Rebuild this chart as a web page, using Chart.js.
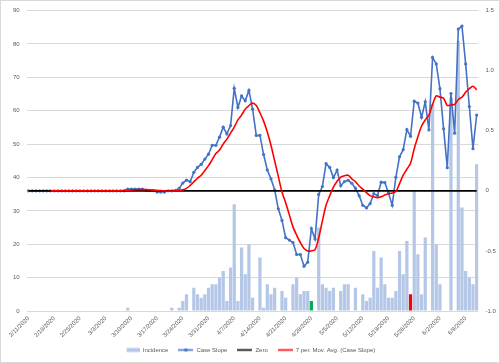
<!DOCTYPE html>
<html>
<head>
<meta charset="utf-8">
<script src="https://cdn.jsdelivr.net/npm/chart.js@4.4.1/dist/chart.umd.min.js"></script>
<style>
    html, body { margin: 0; padding: 0; background: #fff; }
    #wrap { position: relative; width: 500px; height: 363px; }
</style>
</head>
<body>
<div id="wrap"><canvas id="caseChart"></canvas></div>
<script>
// categories: one per day, 2/11/2020 .. 6/12/2020
const dates = [
    '2/11/2020', '2/12/2020', '2/13/2020', '2/14/2020', '2/15/2020', '2/16/2020', '2/17/2020', '2/18/2020', '2/19/2020', '2/20/2020',
    '2/21/2020', '2/22/2020', '2/23/2020', '2/24/2020', '2/25/2020', '2/26/2020', '2/27/2020', '2/28/2020', '2/29/2020',
    '3/1/2020', '3/2/2020', '3/3/2020', '3/4/2020', '3/5/2020', '3/6/2020', '3/7/2020', '3/8/2020', '3/9/2020', '3/10/2020',
    '3/11/2020', '3/12/2020', '3/13/2020', '3/14/2020', '3/15/2020', '3/16/2020', '3/17/2020', '3/18/2020', '3/19/2020', '3/20/2020',
    '3/21/2020', '3/22/2020', '3/23/2020', '3/24/2020', '3/25/2020', '3/26/2020', '3/27/2020', '3/28/2020', '3/29/2020', '3/30/2020', '3/31/2020',
    '4/1/2020', '4/2/2020', '4/3/2020', '4/4/2020', '4/5/2020', '4/6/2020', '4/7/2020', '4/8/2020', '4/9/2020', '4/10/2020',
    '4/11/2020', '4/12/2020', '4/13/2020', '4/14/2020', '4/15/2020', '4/16/2020', '4/17/2020', '4/18/2020', '4/19/2020', '4/20/2020',
    '4/21/2020', '4/22/2020', '4/23/2020', '4/24/2020', '4/25/2020', '4/26/2020', '4/27/2020', '4/28/2020', '4/29/2020', '4/30/2020',
    '5/1/2020', '5/2/2020', '5/3/2020', '5/4/2020', '5/5/2020', '5/6/2020', '5/7/2020', '5/8/2020', '5/9/2020', '5/10/2020',
    '5/11/2020', '5/12/2020', '5/13/2020', '5/14/2020', '5/15/2020', '5/16/2020', '5/17/2020', '5/18/2020', '5/19/2020', '5/20/2020',
    '5/21/2020', '5/22/2020', '5/23/2020', '5/24/2020', '5/25/2020', '5/26/2020', '5/27/2020', '5/28/2020', '5/29/2020', '5/30/2020', '5/31/2020',
    '6/1/2020', '6/2/2020', '6/3/2020', '6/4/2020', '6/5/2020', '6/6/2020', '6/7/2020', '6/8/2020', '6/9/2020', '6/10/2020',
    '6/11/2020', '6/12/2020'
];

// labels shown under the axis (weekly)
const tickLabels = [
    '2/11/2020', '2/18/2020', '2/25/2020', '3/3/2020', '3/10/2020', '3/17/2020', '3/24/2020', '3/31/2020', '4/7/2020',
    '4/14/2020', '4/21/2020', '4/28/2020', '5/5/2020', '5/12/2020', '5/19/2020', '5/26/2020', '6/2/2020', '6/9/2020'
];

// left axis
const incidence = [
    0, 0, 0, 0, 0, 0, 0, 0, 0, 0, 0, 0, 0, 0, 0, 0, 0, 0, 0, 0, 0, 0, 0, 0, 0, 0, 0,
    1, 0, 0, 0, 0, 0, 0, 0, 0, 0, 0, 0,
    1, 0, 1, 3, 5, 0, 7, 5, 4, 5, 7, 8, 8, 10, 12, 3, 13, 32, 3, 19, 11, 20, 4, 0, 16, 1,
    8, 5, 7, 0, 6, 4, 0, 8, 10, 5, 6, 6, 3, 0, 25, 8, 7, 6, 7, 0, 6, 8, 8, 0, 7, 0,
    5, 3, 4, 18, 7, 16, 8, 4, 4, 6, 18, 11, 21, 5, 36, 17, 5, 22, 0, 62, 20, 8, 0, 0,
    64, 0, 81, 31, 12, 10, 8, 44
];

// right axis
const caseSlope = [
    0, 0, 0, 0, 0, 0, 0, 0, 0, 0, 0, 0, 0, 0, 0, 0, 0, 0, 0, 0, 0, 0, 0, 0, 0, 0, 0,
    0.015, 0.015, 0.015, 0.015, 0.015, 0.004, 0.003, 0.002, -0.01, -0.01, -0.01, 0, 0, 0.005, 0.02,
    0.065, 0.09, 0.075, 0.154, 0.195, 0.22, 0.264, 0.305, 0.379, 0.379, 0.447, 0.53, 0.474, 0.543,
    0.853, 0.694, 0.79, 0.749, 0.836, 0.68, 0.461, 0.461, 0.302, 0.174, 0.1, 0.009, -0.15, -0.246,
    -0.39, -0.41, -0.43, -0.53, -0.53, -0.627, -0.594, -0.315, -0.4, -0.03, 0.036, 0.226, 0.195,
    0.11, 0.173, 0.042, 0.077, 0.088, 0.063, 0.022, -0.04, -0.12, -0.142, -0.106, -0.024, -0.038,
    0.072, 0.069, -0.019, -0.12, 0.113, 0.283, 0.343, 0.51, 0.455, 0.746, 0.73, 0.612, 0.741,
    0.507, 1.11, 1.056, 0.85, 0.516, 0.193, 0.81, 0.48, 1.346, 1.371, 1.056, 0.702, 0.351, 0.631
];

const zeroLine = [
    0, 0, 0, 0, 0, 0, 0, 0, 0, 0, 0, 0, 0, 0, 0, 0, 0, 0, 0, 0, 0, 0, 0, 0, 0, 0, 0, 0, 0, 0,
    0, 0, 0, 0, 0, 0, 0, 0, 0, 0, 0, 0, 0, 0, 0, 0, 0, 0, 0, 0, 0, 0, 0, 0, 0, 0, 0, 0, 0, 0,
    0, 0, 0, 0, 0, 0, 0, 0, 0, 0, 0, 0, 0, 0, 0, 0, 0, 0, 0, 0, 0, 0, 0, 0, 0, 0, 0, 0, 0, 0,
    0, 0, 0, 0, 0, 0, 0, 0, 0, 0, 0, 0, 0, 0, 0, 0, 0, 0, 0, 0, 0, 0, 0, 0, 0, 0, 0, 0, 0, 0,
    0, 0, 0
];

const movingAvg = [
    null, null, null, null, null, null,
    0, 0, 0, 0, 0, 0, 0, 0, 0, 0, 0, 0, 0, 0, 0, 0, 0, 0, 0, 0,
    0.003, 0.005, 0.007, 0.009, 0.01, 0.01, 0.01, 0.008, 0.006, 0.004, 0.002, 0, -0.002, -0.002, 0, 0.003,
    0.008, 0.02, 0.045, 0.075, 0.105, 0.13, 0.17, 0.21, 0.26, 0.31, 0.34, 0.39, 0.43, 0.48,
    0.53, 0.59, 0.63, 0.68, 0.71, 0.73, 0.71, 0.65, 0.58, 0.49, 0.38, 0.25, 0.12, -0.01,
    -0.1, -0.2, -0.3, -0.37, -0.43, -0.48, -0.5, -0.5, -0.49, -0.39, -0.25, -0.12, -0.04,
    0.03, 0.08, 0.115, 0.125, 0.13, 0.1, 0.077, 0.04, 0.015, -0.015, -0.04, -0.05, -0.057,
    -0.05, -0.035, -0.025, -0.018, -0.005, 0.06, 0.13, 0.18, 0.23, 0.35, 0.45, 0.54, 0.59,
    0.63, 0.72, 0.79, 0.78, 0.77, 0.71, 0.715, 0.72, 0.76, 0.78, 0.82, 0.85, 0.87, 0.84
];

const greenDay = '4/28/2020';
const redDay = '5/25/2020';

const textColor = '#595959';
const tickFont = { family: "'Liberation Sans', Arial, sans-serif", size: 6 };

let barColors = dates.map(d => d === greenDay ? '#00B050' : (d === redDay ? '#FF0000' : '#B4C7E7'));

function makeSwatch(kind) {
    let c = document.createElement('canvas');
    c.width = 15;
    c.height = 7;
    let g = c.getContext('2d');
    if (kind === 'bar') {
        g.fillStyle = '#B4C7E7';
        g.fillRect(2, 1.5, 13, 4);
        return c;
    }
    let color = kind === 'slope' ? '#4472C4' : (kind === 'zero' ? '#000000' : '#FF0000');
    g.strokeStyle = color;
    g.lineWidth = 1.6;
    g.beginPath();
    g.moveTo(0, 3.5);
    g.lineTo(15, 3.5);
    g.stroke();
    if (kind === 'slope') {
        g.fillStyle = color;
        g.beginPath();
        g.arc(7.5, 3.5, 1.8, 0, Math.PI * 2);
        g.fill();
    }
    return c;
}

const swatches = [makeSwatch('bar'), makeSwatch('slope'), makeSwatch('zero'), makeSwatch('avg')];

const chartFrame = {
    id: 'chartFrame',
    beforeDraw(chart) {
        let c = chart.ctx;
        c.save();
        c.fillStyle = '#ffffff';
        c.fillRect(0, 0, chart.width, chart.height);
        c.restore();
    },
    afterDraw(chart) {
        let c = chart.ctx;
        c.save();
        c.strokeStyle = '#D9D9D9';
        c.lineWidth = 1;
        c.strokeRect(0.5, 0.5, chart.width - 1, chart.height - 1);
        c.restore();
    }
};

new Chart(document.getElementById('caseChart'), {
    data: {
        labels: dates,
        datasets: [
            {
                type: 'bar',
                label: 'Incidence',
                data: incidence,
                yAxisID: 'y',
                backgroundColor: barColors,
                categoryPercentage: 1,
                barPercentage: 0.88,
                order: 4
            },
            {
                type: 'line',
                label: 'Case Slope',
                data: caseSlope,
                yAxisID: 'y1',
                borderColor: '#4472C4',
                backgroundColor: '#4472C4',
                borderWidth: 1.6,
                pointRadius: 1.6,
                pointBorderWidth: 0,
                tension: 0,
                order: 3
            },
            {
                type: 'line',
                label: 'Zero',
                data: zeroLine,
                yAxisID: 'y1',
                borderColor: '#000000',
                borderWidth: 1.6,
                pointRadius: 0,
                order: 2
            },
            {
                type: 'line',
                label: '7 per. Mov. Avg. (Case Slope)',
                data: movingAvg,
                yAxisID: 'y1',
                borderColor: '#FF0000',
                borderWidth: 1.6,
                pointRadius: 0,
                tension: 0.3,
                order: 1
            }
        ]
    },
    options: {
        responsive: true,
        maintainAspectRatio: false,
        devicePixelRatio: 1,
        animation: false,
        events: [],
        layout: { padding: { top: 4, left: 0, right: 0, bottom: 0 } },
        plugins: {
            tooltip: { enabled: false },
            legend: {
                position: 'bottom',
                labels: {
                    usePointStyle: true,
                    pointStyleWidth: 15,
                    padding: 10,
                    color: textColor,
                    font: tickFont,
                    generateLabels(chart) {
                        let items = Chart.defaults.plugins.legend.labels.generateLabels(chart);
                        items.sort((a, b) => a.datasetIndex - b.datasetIndex);
                        items.forEach(item => {
                            item.pointStyle = swatches[item.datasetIndex];
                        });
                        return items;
                    }
                }
            }
        },
        scales: {
            x: {
                grid: { display: false, drawTicks: false },
                border: { display: false },
                ticks: {
                    autoSkip: false,
                    minRotation: 45,
                    maxRotation: 45,
                    padding: 4,
                    color: textColor,
                    font: tickFont,
                    callback(value, index) {
                        let label = dates[index];
                        return tickLabels.includes(label) ? label : '';
                    }
                },
                afterFit(scale) { scale.height = 26; }
            },
            y: {
                position: 'left',
                min: 0,
                max: 90,
                ticks: { stepSize: 10, padding: 7, color: textColor, font: tickFont },
                grid: { color: '#D9D9D9', drawTicks: false },
                border: { display: false },
                afterFit(scale) { scale.width = 26.7; }
            },
            y1: {
                position: 'right',
                min: -1,
                max: 1.5,
                ticks: { stepSize: 0.5, padding: 7, color: textColor, font: tickFont },
                grid: { display: false, drawTicks: false },
                border: { display: false },
                afterFit(scale) { scale.width = 21.5; }
            }
        }
    },
    plugins: [chartFrame]
});
</script>
</body>
</html>
